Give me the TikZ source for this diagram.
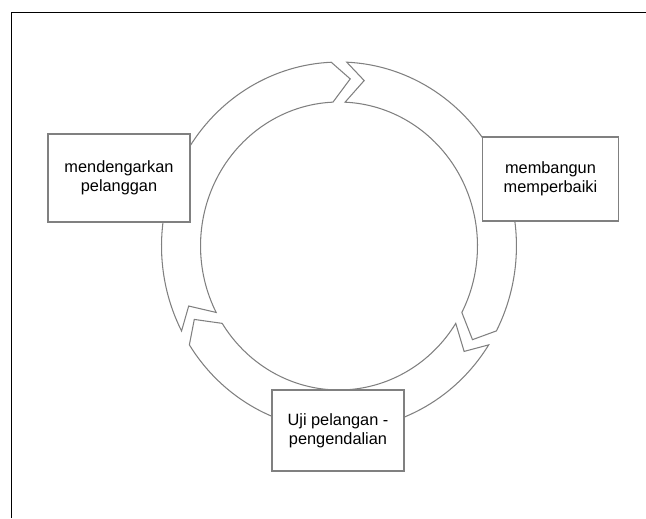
\documentclass[tikz,border=0pt]{standalone}
\usepackage{fontspec}
\setmainfont{Liberation Sans}
\usetikzlibrary{positioning}

\begin{document}
\begin{tikzpicture}[x=0.02cm, y=0.02cm, font=\fontsize{9.3}{10.8}\selectfont,
  band/.style={draw=black!50, fill=white, line width=0.6pt},
  stagebox/.style={draw=black!50, fill=white, line width=0.6pt, align=center, inner sep=0pt}]

% Manually size the picture (origin = centre of the cycle)
\useasboundingbox (-339, -272) rectangle (307, 246);

% Frame
\draw[line width=1pt] (-327.5, -272) -- (-327.5, 233.5) -- (307, 233.5);

% Arrow from left to top
\draw[band] ({177.5*cos(207.5)}, {184*sin(207.5)})
  arc[start angle=207.5, end angle=92.5, x radius=3.55cm, y radius=3.68cm]
  -- ({161*cos(86)}, {167.5*sin(86)}) -- ({138.5*cos(92.5)}, {144*sin(92.5)})
  arc[start angle=92.5, end angle=207.5, x radius=2.77cm, y radius=2.88cm]
  -- ({161*cos(201)}, {167.5*sin(201)}) -- cycle;

% Arrow from top to right
\draw[band] ({177.5*cos(87.5)}, {184*sin(87.5)})
  arc[start angle=87.5, end angle=-27.5, x radius=3.55cm, y radius=3.68cm]
  -- ({161*cos(-34)}, {167.5*sin(-34)}) -- ({138.5*cos(-27.5)}, {144*sin(-27.5)})
  arc[start angle=-27.5, end angle=87.5, x radius=2.77cm, y radius=2.88cm]
  -- ({161*cos(81)}, {167.5*sin(81)}) -- cycle;

% Arrow from right to bottom and back to left
\draw[band] ({177.5*cos(-32.5)}, {184*sin(-32.5)})
  arc[start angle=-32.5, end angle=-147.5, x radius=3.55cm, y radius=3.68cm]
  -- ({161*cos(-154)}, {167.5*sin(-154)}) -- ({138.5*cos(-147.5)}, {144*sin(-147.5)})
  arc[start angle=-147.5, end angle=-32.5, x radius=2.77cm, y radius=2.88cm]
  -- ({161*cos(-39)}, {167.5*sin(-39)}) -- cycle;

% Stage boxes
\node[stagebox, minimum width=2.84cm, minimum height=1.76cm] (listen) at (-220, 68) {mendengarkan\\pelanggan};
\node[stagebox, minimum width=2.71cm, minimum height=1.68cm] (build) at (211.5, 67) {membangun\\memperbaiki};
\node[stagebox, minimum width=2.64cm, minimum height=1.62cm] (test) at (-1, -184.5) {Uji pelangan -\\pengendalian};

\end{tikzpicture}
\end{document}
